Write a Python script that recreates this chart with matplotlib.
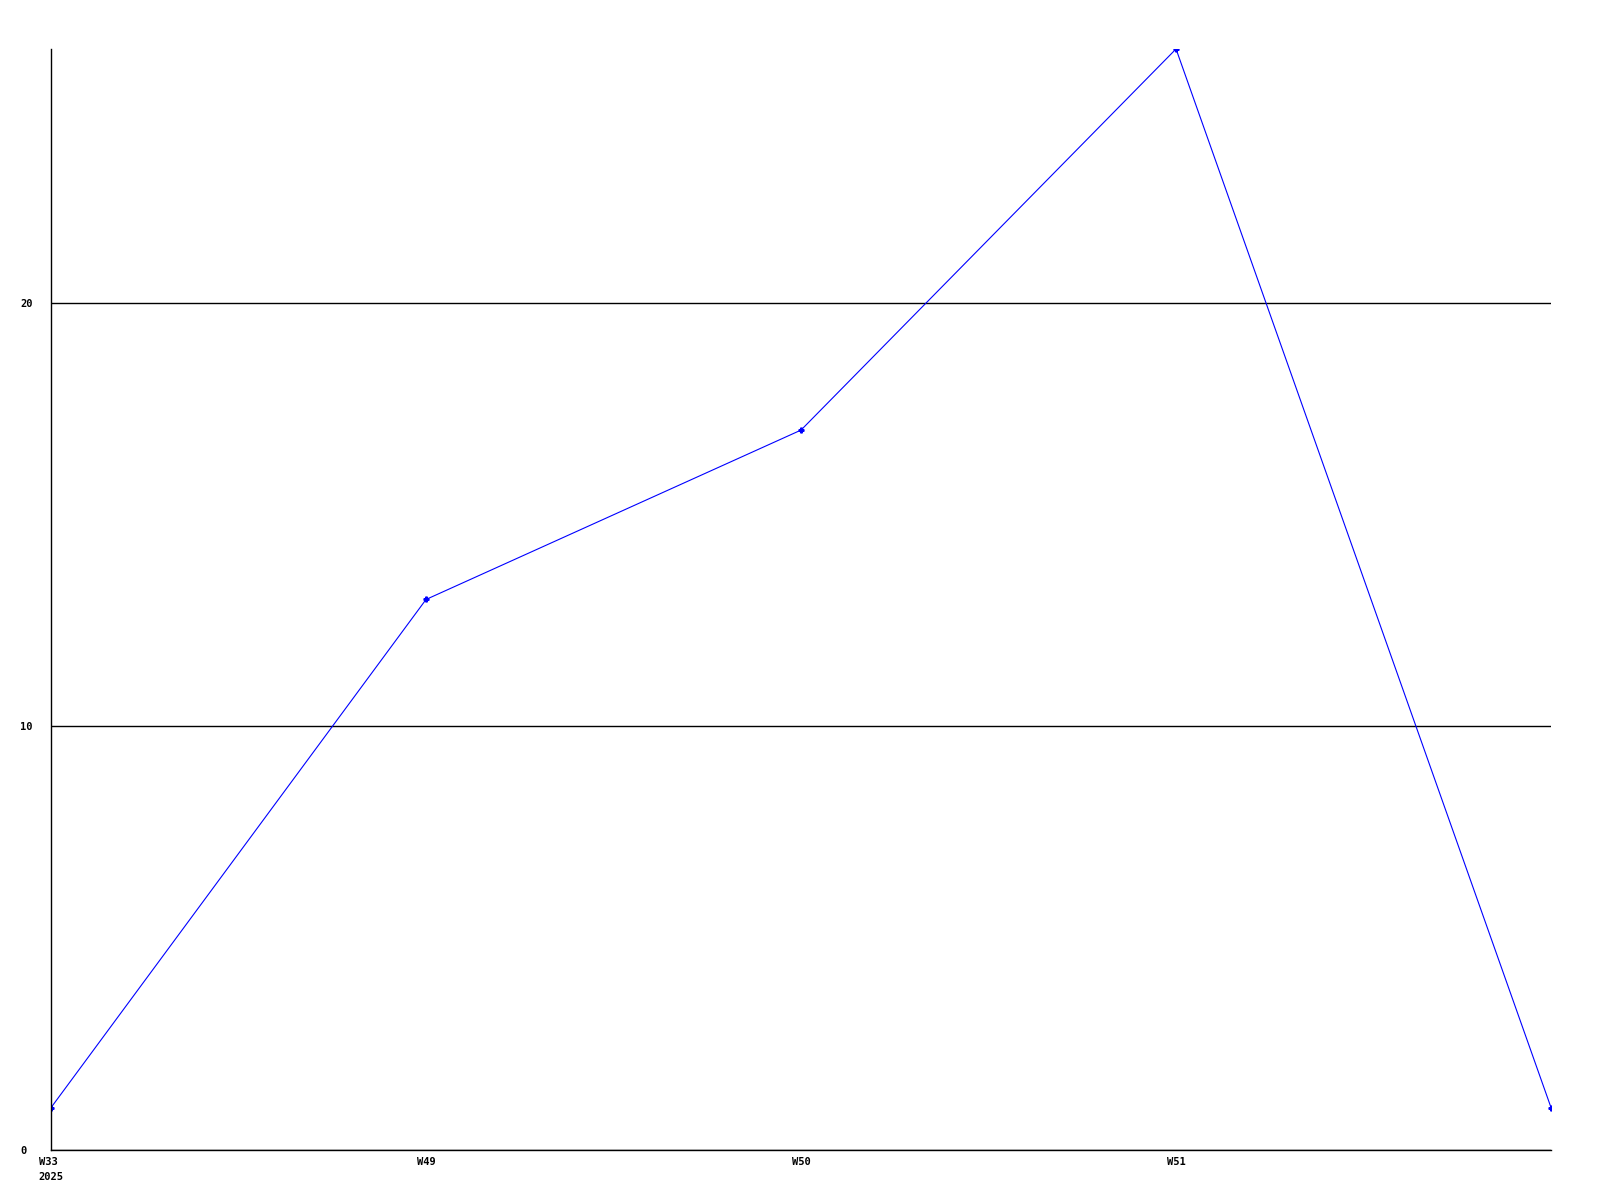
import matplotlib.pyplot as plt

# Weekly counts
weeks = ["W33\n2025", "W49", "W50", "W51", ""]
counts = [1, 13, 17, 26, 1]

plt.rcParams['font.family'] = ['DejaVu Sans Mono']

fig = plt.figure(figsize=(16, 12), dpi=100)
ax = fig.add_axes([0.0319, 0.0417, 0.9375, 0.9175])

x = list(range(len(counts)))
ax.plot(x, counts, color="#0000ff", lw=0.8, marker="P", markersize=3.5)

ax.set_xlim(0, len(counts) - 1)
ax.set_ylim(0, 26)
ax.set_xticks(x)
ax.set_xticklabels(weeks, fontsize=7.5, fontweight="bold",
                   ha="center", multialignment="left", linespacing=1.6)
ax.set_yticks([0, 10, 20])
ax.set_yticklabels(["0", "10", "20"], fontsize=7.5, fontweight="bold", ha="left")
ax.tick_params(axis="x", length=0, pad=5)
ax.tick_params(axis="y", length=0, pad=22)

ax.yaxis.grid(True, color="black", lw=1)
ax.set_axisbelow(True)

ax.spines["top"].set_visible(False)
ax.spines["right"].set_visible(False)
ax.spines["left"].set_linewidth(1)
ax.spines["bottom"].set_linewidth(1)

fig.savefig("out.png")
